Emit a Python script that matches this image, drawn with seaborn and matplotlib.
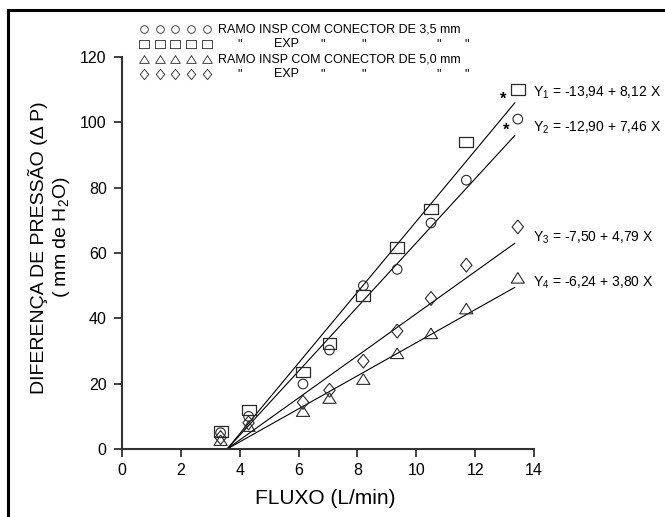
import numpy as np
import pandas as pd
import matplotlib
matplotlib.use("Agg")
import matplotlib.pyplot as plt
import seaborn as sns
from matplotlib.lines import Line2D

# Fluxo (L/min) used for every series
fluxo = [3.35, 4.3, 6.15, 7.05, 8.2, 9.35, 10.5, 11.7, 13.45]

# Pressure difference (mm H2O)
insp_35 = [5, 10, 19.9, 30.3, 50, 55, 69.2, 82.3, 101]    # circles
exp_35 = [5.3, 12, 23.5, 32.3, 47, 61.7, 73.5, 94, 110]   # squares
insp_50 = [2.7, 7, 11.6, 15.6, 21.4, 29.3, 35.4, 43, 52.4]  # triangles
exp_50 = [3.5, 8, 14.3, 18, 26.9, 36.1, 46.1, 56.3, 68]   # diamonds

# regression lines as drawn (start / end points)
line_x = [3.57, 13.35]
line_y1 = [0, 106]
line_y2 = [0, 96]
line_y3 = [0, 63]
line_y4 = [0, 49.5]

eq_labels = ["Y$_1$ = -13,94 + 8,12 X", "Y$_2$ = -12,90 + 7,46 X",
             "Y$_3$ = -7,50 + 4,79 X", "Y$_4$ = -6,24 + 3,80 X"]
eq_y = [108.9, 98.2, 64.8, 50.8]

sns.set_style("ticks")
plt.rcParams['font.family'] = ['Liberation Sans', 'DejaVu Sans']
plt.rcParams['mathtext.fontset'] = 'custom'
plt.rcParams['mathtext.rm'] = 'Liberation Sans'
plt.rcParams['mathtext.default'] = 'regular'
plt.rcParams['text.color'] = 'black'
plt.rcParams['xtick.labelcolor'] = 'black'
plt.rcParams['ytick.labelcolor'] = 'black'

# custom marker shapes
rect = [(-1, -0.75), (1, -0.75), (1, 0.75), (-1, 0.75), (-1, -0.75)]
tri = [(0, 0.8), (-1, -0.8), (1, -0.8), (0, 0.8)]
diam = [(0, 1), (0.82, 0), (0, -1), (-0.82, 0), (0, 1)]

fig = plt.figure(figsize=(6.65, 5.17), dpi=100)
ax = fig.add_axes([0.1835, 0.1315, 0.6195, 0.7582])

df = pd.DataFrame({"fluxo": fluxo, "c": insp_35, "s": exp_35, "t": insp_50, "d": exp_50})

ec = "#2a2a2a"
sns.scatterplot(data=df, x="fluxo", y="c", marker="o", s=48, facecolors="none",
                edgecolors=ec, linewidths=0.8, ax=ax, zorder=3)
sns.scatterplot(data=df, x="fluxo", y="s", marker=rect, s=100, facecolors="none",
                edgecolors=ec, linewidths=0.9, ax=ax, zorder=3)
sns.scatterplot(data=df, x="fluxo", y="t", marker=tri, s=90, facecolors="none",
                edgecolors=ec, linewidths=0.8, ax=ax, zorder=3)
sns.scatterplot(data=df, x="fluxo", y="d", marker=diam, s=100, facecolors="none",
                edgecolors=ec, linewidths=0.8, ax=ax, zorder=3)

for ly in [line_y1, line_y2, line_y3, line_y4]:
    sns.lineplot(x=line_x, y=ly, color="black", linewidth=0.8, ax=ax)

for lab, y in zip(eq_labels, eq_y):
    ax.text(13.97, y, lab, fontsize=10, va="center", ha="left", clip_on=False)

ax.text(12.94, 107, "*", fontsize=12, fontweight="bold", ha="center", va="center")
ax.text(13.07, 97.5, "*", fontsize=12, fontweight="bold", ha="center", va="center")

ax.set_xlim(0, 14)
ax.set_ylim(0, 120)
ax.set_xticks(np.arange(0, 15, 2))
ax.set_yticks(np.arange(0, 121, 20))
ax.tick_params(axis="both", labelsize=11.5, width=1.3, length=6, color="#333333")
ax.tick_params(axis="y", pad=5)
ax.tick_params(axis="x", pad=4)
for sp in ["left", "bottom"]:
    ax.spines[sp].set_linewidth(1.5)
    ax.spines[sp].set_color("#333333")
sns.despine(ax=ax)
ax.set_xlabel("")
ax.set_ylabel("")

W, H = 665, 517
fig.text(325 / W, 1 - 499 / H, "FLUXO (L/min)", fontsize=15, ha="center", va="center")
fig.text(38 / W, 1 - 248 / H, "DIFERENÇA DE PRESSÃO (Δ P)", fontsize=14,
         rotation=90, ha="center", va="center")
fig.text(62 / W, 1 - 237 / H, "( mm de H$_2$O)", fontsize=14,
         rotation=90, ha="center", va="center")

# legend block at the top
leg_x = [144, 160, 175, 191, 207]
rows = [(29, "o", 5.5), (44, rect, 7.5), (59, tri, 7), (74, diam, 7.5)]
for ry, mk, ms in rows:
    for lx in leg_x:
        fig.add_artist(Line2D([lx / W], [1 - ry / H], marker=mk, markersize=ms,
                              markerfacecolor="none", markeredgecolor=ec,
                              markeredgewidth=0.6, linestyle="none"))
fig.text(218 / W, 1 - 29 / H, "RAMO INSP COM CONECTOR DE 3,5 mm", fontsize=9, va="center")
fig.text(218 / W, 1 - 59 / H, "RAMO INSP COM CONECTOR DE 5,0 mm", fontsize=9, va="center")
for ry in [44, 74]:
    fig.text(274 / W, 1 - ry / H, "EXP", fontsize=9, va="center")
    for qx in [240, 323, 364, 439, 467]:
        fig.text(qx / W, 1 - ry / H, '"', fontsize=9, va="center", ha="center")

# outer frame (left and top edges visible)
fig.add_artist(plt.Rectangle((8 / W, -0.1), 1.2, 1 - 10 / H + 0.1, transform=fig.transFigure,
                             fill=False, edgecolor="black", linewidth=2.2))

fig.savefig("out.png", dpi=100)
